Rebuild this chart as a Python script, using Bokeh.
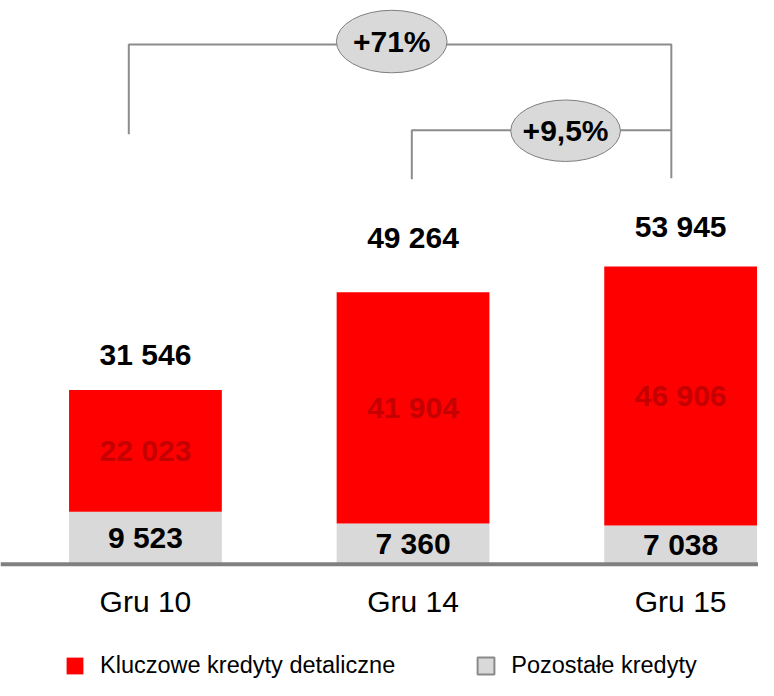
from bokeh.plotting import figure
from bokeh.models import ColumnDataSource, Legend, LegendItem, Span
from bokeh.core.properties import value
from bokeh.embed import file_html
from bokeh.resources import INLINE

# ---- data ----
categories = ["Gru 10", "Gru 14", "Gru 15"]
key_loans = [22023, 41904, 46906]      # Kluczowe kredyty detaliczne
other_loans = [9523, 7360, 7038]       # Pozostałe kredyty
totals = [31546, 49264, 53945]
key_labels = ["22 023", "41 904", "46 906"]
other_labels = ["9 523", "7 360", "7 038"]
total_labels = ["31 546", "49 264", "53 945"]
growth_labels = ["+71%", "+9,5%"]
series_names = ["Kluczowe kredyty detaliczne", "Pozostałe kredyty"]

# ---- layout (pixels) ----
W, H = 758, 680
SX, SY = W / 774, H / 696          # reference px -> canvas px
BASE = 577 * SY                    # canvas y of zero line
U = 177.0 / SY                     # data units per canvas pixel
X0, DX = 148 * SX, 273.25 * SX     # canvas x of first category, px per category
BAR_W = 156 * SX / DX

def cx(rx):            # reference x -> data x
    return (rx * SX - X0) / DX

def cy(ry):            # reference y -> data y
    return (BASE - ry * SY) * U

FONT = value("Liberation Sans")
RED = "#ff0000"
GREY = "#d9d9d9"
LINE = "#8c8c8c"
FS = "30px"

p = figure(width=W, height=H, output_backend="svg", toolbar_location=None,
           x_range=(-X0 / DX, (W - X0) / DX),
           y_range=(-(H - BASE) * U, BASE * U),
           min_border=0, outline_line_color=None)
p.axis.visible = False
p.grid.visible = False

xs = list(range(len(categories)))
src = ColumnDataSource(dict(
    x=xs, key=key_loans, other=other_loans, total=totals,
    key_mid=[o + k / 2 for o, k in zip(other_loans, key_loans)],
    key_lo=[o + k / 4 for o, k in zip(other_loans, key_loans)],
    key_hi=[o + 3 * k / 4 for o, k in zip(other_loans, key_loans)],
    other_mid=[o / 2 for o in other_loans],
    key_lbl=key_labels, other_lbl=other_labels, total_lbl=total_labels,
    cat=categories, tot_off=[-36, -55, -40],
))

# legend swatch for the grey series (outlined), drawn hidden beneath the red bars
gray_leg = p.vbar(x="x", bottom="key_lo", top="key_hi", width=BAR_W / 2,
                  source=src, fill_color=GREY, line_color="#8a8a8a", line_width=2)

stack = p.vbar_stack(["other", "key"], x="x", width=BAR_W, source=src,
                     color=[GREY, RED], line_color=None)
gray_bars, red_bars = stack

# zero line
p.add_layout(Span(location=0, dimension="width", line_color="#808080", line_width=4))

# labels in bars
p.text(x="x", y="key_mid", text="key_lbl", source=src, text_font=FONT,
       text_font_style="bold", text_font_size=FS, text_color="#c40000",
       text_align="center", text_baseline="middle")
p.text(x="x", y="other_mid", text="other_lbl", source=src, text_font=FONT,
       text_font_style="bold", text_font_size=FS, text_color="black",
       text_align="center", text_baseline="middle")
p.text(x="x", y="total", y_offset="tot_off", text="total_lbl", source=src,
       text_font=FONT, text_font_style="bold", text_font_size=FS,
       text_color="black", text_align="center", text_baseline="middle")

# category labels
p.text(x="x", y=cy(615), text="cat", source=src, text_font=FONT,
       text_font_size=FS, text_color="black",
       text_align="center", text_baseline="middle")

# growth brackets
p.multi_line(
    xs=[[cx(131), cx(131), cx(685), cx(685)], [cx(420), cx(420), cx(685)]],
    ys=[[cy(137), cy(45), cy(45), cy(182)], [cy(183), cy(132.7), cy(132.7)]],
    line_color=LINE, line_width=2)
ell = ColumnDataSource(dict(
    x=[cx(399.5), cx(577)], y=[cy(42), cy(133.3)],
    w=[113 * SX / DX, 112 * SX / DX], h=[64 * SY * U, 63 * SY * U],
    lbl=growth_labels))
p.ellipse(x="x", y="y", width="w", height="h", source=ell,
          fill_color=GREY, line_color="#7f7f7f", line_width=1)
p.text(x="x", y="y", text="lbl", source=ell, text_font=FONT,
       text_font_style="bold", text_font_size=FS, text_color="black",
       text_align="center", text_baseline="middle")

legend = Legend(items=[LegendItem(label=series_names[0], renderers=[red_bars]),
                       LegendItem(label=series_names[1], renderers=[gray_leg])],
                orientation="horizontal", location=(64, 1),
                glyph_width=21, glyph_height=21, label_standoff=15, spacing=80,
                padding=0, margin=0, border_line_color=None,
                background_fill_alpha=0, label_text_font="Liberation Sans",
                label_text_font_size="23.5px", label_text_color="black")
p.add_layout(legend)

open("out.html", "w").write(file_html(p, INLINE))
